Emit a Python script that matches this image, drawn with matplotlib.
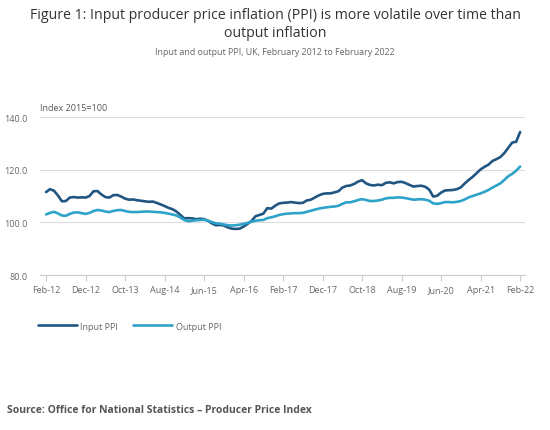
import matplotlib
matplotlib.use("Agg")
import matplotlib.pyplot as plt

plt.rcParams["font.family"] = ["Open Sans", "DejaVu Sans"]

# monthly, Feb 2012 .. Feb 2022 (index 2015=100)
input_ppi = [
    111.5, 112.6, 112.0, 110.2, 108.0, 108.1, 109.4, 109.6, 109.4, 109.5, 109.4, 110.0,
    111.8, 111.9, 110.6, 109.6, 109.4, 110.3, 110.4, 109.8, 109.0, 108.6, 108.7, 108.4,
    108.2, 108.0, 107.8, 107.9, 107.4, 106.8, 106.2, 105.5, 105.0, 104.1, 102.8, 101.5,
    101.6, 101.5, 101.2, 101.4, 101.2, 100.6, 99.6, 98.9, 99.0, 98.8, 98.1, 97.6,
    97.5, 97.6, 98.4, 99.4, 100.5, 102.3, 102.8, 103.3, 105.4, 105.2, 106.3, 107.2,
    107.4, 107.5, 107.7, 107.5, 107.3, 107.4, 108.3, 108.6, 109.4, 110.2, 110.8, 111.0,
    111.0, 111.4, 111.8, 113.2, 113.8, 114.0, 114.6, 115.5, 116.0, 114.8, 114.2, 114.0,
    114.3, 114.1, 115.0, 115.2, 114.8, 115.3, 115.4, 114.9, 114.2, 113.6, 113.8, 113.9,
    113.5, 112.4, 109.8, 110.1, 111.3, 112.1, 112.2, 112.3, 112.6, 113.3, 114.8, 116.1,
    117.3, 118.7, 120.1, 121.1, 121.9, 123.3, 124.0, 124.8, 126.3, 128.3, 130.3, 130.6,
    134.3,
]
output_ppi = [
    103.0, 103.6, 104.0, 103.4, 102.6, 102.5, 103.2, 103.7, 103.8, 103.5, 103.2, 103.6,
    104.3, 104.7, 104.5, 104.1, 103.9, 104.3, 104.6, 104.7, 104.3, 104.0, 103.9, 103.9,
    104.0, 104.1, 104.1, 104.0, 103.9, 103.8, 103.6, 103.3, 103.0, 102.6, 101.8, 100.9,
    100.4, 100.6, 100.8, 100.9, 101.0, 100.6, 100.1, 99.6, 99.5, 99.2, 98.9, 98.8,
    98.9, 99.1, 99.4, 99.8, 100.2, 100.6, 100.8, 100.9, 101.6, 101.9, 102.3, 102.8,
    103.1, 103.3, 103.4, 103.5, 103.5, 103.6, 104.0, 104.4, 104.8, 105.2, 105.5, 105.7,
    105.9, 106.0, 106.3, 107.0, 107.6, 107.6, 108.0, 108.5, 108.8, 108.5, 108.1, 108.1,
    108.3, 108.6, 109.1, 109.3, 109.3, 109.5, 109.4, 109.2, 108.9, 108.6, 108.7, 108.8,
    108.6, 108.2, 107.2, 107.0, 107.3, 107.7, 107.7, 107.6, 107.8, 108.1, 108.7, 109.5,
    110.0, 110.5, 111.0, 111.6, 112.3, 113.2, 114.0, 114.8, 116.1, 117.5, 118.4, 119.6,
    121.2,
]
tick_labels = ["Feb-12", "Dec-12", "Oct-13", "Aug-14", "Jun-15", "Apr-16", "Feb-17",
               "Dec-17", "Oct-18", "Aug-19", "Jun-20", "Apr-21", "Feb-22"]

months = list(range(len(input_ppi)))

fig = plt.figure(figsize=(5.5, 4.31), dpi=100)
ax = fig.add_axes([0.073, 0.3596, 0.882, 0.3666])

ax.plot(months, input_ppi, color="#215682", lw=1.9, label="Input PPI", solid_capstyle="round")
ax.plot(months, output_ppi, color="#2ea3c9", lw=1.9, label="Output PPI", solid_capstyle="round")

ax.set_xlim(-1.5, 121.3)
ax.set_ylim(80, 140)
ax.set_yticks([80, 100, 120, 140])
ax.set_yticklabels([f"{v:.1f}" for v in [80, 100, 120, 140]])
ax.set_xticks(range(0, 121, 10))
ax.set_xticklabels(tick_labels)
ax.grid(axis="y", color="#dddddd", lw=0.8)
ax.set_axisbelow(True)
for s in ["top", "right", "left"]:
    ax.spines[s].set_visible(False)
ax.spines["bottom"].set_color("#cccccc")
ax.tick_params(axis="y", length=0, labelsize=6.5, labelcolor="#666666", pad=9)
ax.tick_params(axis="x", length=4, color="#cccccc", labelsize=6.5, labelcolor="#666666", pad=3)

ax.text(0.0, 1.03, "Index 2015=100", transform=ax.transAxes, fontsize=6.5,
        color="#555555", ha="left", va="bottom")

fig.text(0.5, 0.964, "Figure 1: Input producer price inflation (PPI) is more volatile over time than",
         ha="center", va="center", fontsize=10.2, color="#333333")
fig.text(0.5, 0.923, "output inflation", ha="center", va="center", fontsize=10.2, color="#333333")
fig.text(0.5, 0.879, "Input and output PPI, UK, February 2012 to February 2022",
         ha="center", va="center", fontsize=6.4, color="#666666")

leg = fig.legend(loc="center left", bbox_to_anchor=(0.054, 0.241), ncol=2, frameon=False,
                 fontsize=6.5, handlelength=4.3, columnspacing=1.7, handletextpad=0.4)
for t in leg.get_texts():
    t.set_color("#666666")

fig.text(0.013, 0.048, "Source: Office for National Statistics \u2013 Producer Price Index",
         ha="left", va="center", fontsize=7.5, fontweight="bold", color="#555555")

fig.savefig("out.png", dpi=100)
